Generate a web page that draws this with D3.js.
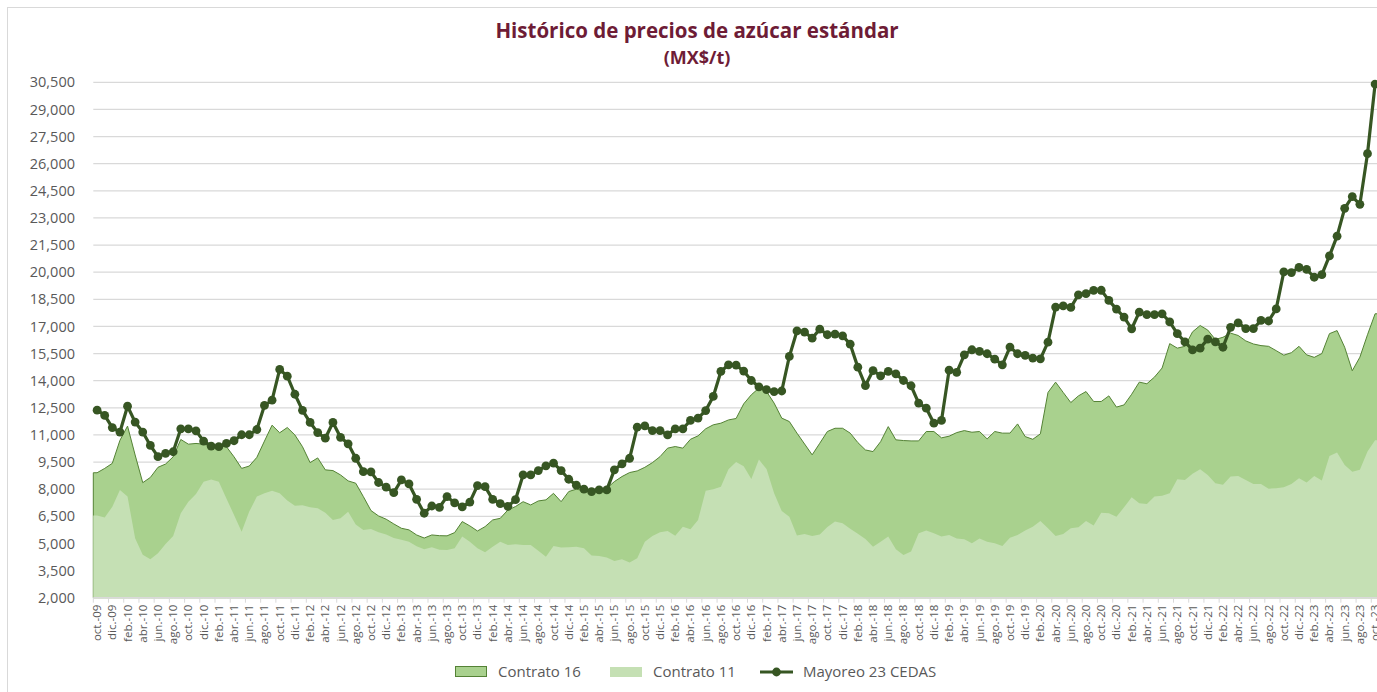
<!DOCTYPE html>
<html>
<head>
<meta charset="utf-8">
<script src="https://cdnjs.cloudflare.com/ajax/libs/d3/7.8.5/d3.min.js"></script>
<style>
  body { margin: 0; background: #fff; }
  svg { display: block; font-family: "Open Sans", "Noto Sans", sans-serif; }
</style>
</head>
<body>
<svg id="chart" width="1377" height="692"></svg>
<script>
"use strict";

// categories: oct-09 .. oct-23, monthly
var monthNames = ["ene", "feb", "mar", "abr", "may", "jun", "jul", "ago", "sep", "oct", "nov", "dic"];
var years = ["09", "10", "11", "12", "13", "14", "15", "16", "17", "18", "19", "20", "21", "22", "23"];

var mayoreo = [
  12370, 12080, 11410, 11160, 12590, 11710, 11160, 10420, 9800, 9980, 10070, 11340,
  11340, 11230, 10660, 10380, 10350, 10530, 10680, 11010, 11010, 11300, 12630, 12920,
  14620, 14250, 13250, 12360, 11690, 11130, 10820, 11690, 10870, 10510, 9710, 8970,
  8960, 8370, 8110, 7810, 8510, 8290, 7440, 6670, 7070, 7000, 7590, 7240,
  7020, 7290, 8200, 8140, 7440, 7200, 7050, 7420, 8790, 8790, 9030, 9290,
  9440, 9030, 8550, 8220, 8000, 7870, 7960, 7960, 9070, 9400, 9710, 11430,
  11500, 11240, 11240, 11000, 11340, 11340, 11800, 11930, 12350, 13130, 14510, 14880,
  14860, 14530, 14010, 13660, 13510, 13400, 13430, 15340, 16750, 16690, 16350, 16850,
  16540, 16580, 16480, 16020, 14750, 13730, 14560, 14270, 14510, 14380, 14010, 13720,
  12760, 12480, 11650, 11800, 14580, 14460, 15430, 15710, 15620, 15490, 15190, 14880,
  15860, 15490, 15400, 15250, 15210, 16130, 18070, 18140, 18050, 18750, 18810, 18990,
  19000, 18440, 17960, 17520, 16870, 17790, 17650, 17650, 17700, 17250, 16600, 16150,
  15700, 15800, 16300, 16150, 15850, 16950, 17200, 16880, 16880, 17330, 17300, 17970,
  20020, 19980, 20260, 20150, 19720, 19860, 20900, 21990, 23530, 24180, 23750, 26550,
  30400
];

var contrato16 = [
  8910, 9150, 9430, 10700, 11490, 9890, 8360, 8650, 9210, 9390, 9790, 10750,
  10490, 10530, 10490, 10380, 10380, 10350, 9790, 9150, 9280, 9760, 10660, 11540,
  11120, 11410, 11000, 10350, 9470, 9730, 9070, 9030, 8790, 8460, 8330, 7590,
  6820, 6520, 6340, 6080, 5840, 5750, 5470, 5300, 5470, 5430, 5420, 5600,
  6210, 5970, 5690, 5930, 6300, 6390, 6850, 7040, 7310, 7130, 7350, 7410,
  7770, 7310, 7870, 8000, 7920, 8000, 8000, 8050, 8420, 8700, 8920, 9010,
  9210, 9470, 9800, 10270, 10360, 10270, 10760, 10950, 11340, 11560, 11650, 11830,
  11910, 12720, 13220, 13590, 13400, 12760, 11930, 11740, 11100, 10500, 9900, 10540,
  11190, 11370, 11370, 11100, 10580, 10170, 10080, 10630, 11460, 10730, 10690, 10670,
  10670, 11190, 11190, 10840, 10930, 11130, 11240, 11150, 11190, 10780, 11190, 11100,
  11100, 11610, 10910, 10760, 11060, 13350, 13920, 13350, 12790, 13160, 13400, 12850,
  12850, 13160, 12540, 12660, 13250, 13920, 13830, 14200, 14700, 16050, 15800, 15900,
  16700, 17050, 16800, 16280, 16400, 16630, 16500, 16200, 16030, 15940, 15900, 15660,
  15410, 15550, 15900, 15430, 15290, 15500, 16600, 16770, 15850, 14550, 15300, 16540,
  17700
];

var contrato11 = [
  6540, 6430, 7030, 7950, 7590, 5290, 4370, 4130, 4460, 4970, 5410, 6670,
  7310, 7730, 8410, 8540, 8410, 7490, 6570, 5650, 6760, 7590, 7770, 7920,
  7770, 7370, 7090, 7110, 7000, 6950, 6700, 6300, 6400, 6750, 6050, 5750,
  5800, 5620, 5500, 5300, 5200, 5100, 4850, 4680, 4790, 4650, 4640, 4730,
  5380, 5100, 4730, 4510, 4820, 5100, 4920, 4950, 4920, 4920, 4600, 4270,
  4860, 4770, 4790, 4820, 4730, 4330, 4300, 4220, 4030, 4120, 3940, 4180,
  5100, 5410, 5620, 5690, 5430, 5930, 5780, 6300, 7920, 8000, 8140, 9100,
  9510, 9270, 8560, 9640, 9110, 7780, 6790, 6480, 5440, 5520, 5410, 5500,
  5910, 6220, 6110, 5810, 5530, 5250, 4820, 5100, 5380, 4680, 4360, 4550,
  5560, 5710, 5560, 5380, 5470, 5280, 5230, 5010, 5280, 5100, 5010, 4860,
  5320, 5470, 5710, 5930, 6240, 5840, 5410, 5520, 5840, 5890, 6240, 5990,
  6700, 6670, 6480, 7000, 7550, 7220, 7180, 7590, 7640, 7770, 8550, 8510,
  8850, 9100, 8790, 8330, 8240, 8700, 8730, 8510, 8290, 8290, 8030, 8050,
  8110, 8290, 8610, 8370, 8730, 8480, 9840, 10030, 9340, 8970, 9070, 10080,
  10700
];

var yTicks = [2000, 3500, 5000, 6500, 8000, 9500, 11000, 12500, 14000, 15500,
  17000, 18500, 20000, 21500, 23000, 24500, 26000, 27500, 29000, 30500];

var categories = mayoreo.map(function (d, i) {
  var m = (9 + i) % 12;
  var y = Math.floor((9 + i) / 12);
  return monthNames[m] + ".-" + years[y];
});

var plotLeft = 93.3, plotRight = 1378.9, plotTop = 82.3, plotBottom = 597.7;
var labelColor = "#595959";

var svg = d3.select("#chart");

var x = d3.scaleBand().domain(categories).range([plotLeft, plotRight]).padding(0);
var y = d3.scaleLinear().domain([2000, 30500]).range([plotBottom, plotTop]);

function cx(i) {
  return x(categories[i]) + x.bandwidth() / 2;
}

// chart frame
svg.append("rect")
  .attr("x", 7.5).attr("y", 7.5)
  .attr("width", 1400).attr("height", 700)
  .attr("fill", "none")
  .attr("stroke", "#d9d9d9");

// title
svg.append("text")
  .attr("x", 697).attr("y", 38)
  .attr("text-anchor", "middle")
  .attr("font-size", 20.5).attr("font-weight", "bold")
  .attr("fill", "#6e1c36")
  .text("Histórico de precios de azúcar estándar");
svg.append("text")
  .attr("x", 697).attr("y", 64)
  .attr("text-anchor", "middle")
  .attr("font-size", 18).attr("font-weight", "bold")
  .attr("fill", "#6e1c36")
  .text("(MX$/t)");

// gridlines + y labels
svg.append("g").selectAll("line")
  .data(yTicks)
  .enter().append("line")
  .attr("x1", plotLeft).attr("x2", plotRight)
  .attr("y1", function (d) { return y(d); })
  .attr("y2", function (d) { return y(d); })
  .attr("stroke", "#d9d9d9").attr("stroke-width", 1.3);

svg.append("g").selectAll("text")
  .data(yTicks)
  .enter().append("text")
  .attr("x", 75)
  .attr("y", function (d) { return y(d); })
  .attr("dy", "0.35em")
  .attr("text-anchor", "end")
  .attr("font-size", 14.5)
  .attr("fill", labelColor)
  .text(d3.format(","));

// areas, stretched to the plot edges
function areaPoints(values) {
  var pts = values.map(function (v, i) { return [cx(i), v]; });
  pts.unshift([plotLeft, values[0]]);
  pts.push([plotRight, values[values.length - 1]]);
  return pts;
}

var area = d3.area()
  .x(function (d) { return d[0]; })
  .y0(y(2000))
  .y1(function (d) { return y(d[1]); });

svg.append("path")
  .datum(areaPoints(contrato16))
  .attr("d", area)
  .attr("fill", "#a9d18e")
  .attr("stroke", "#548235")
  .attr("stroke-width", 1);

svg.append("path")
  .datum(areaPoints(contrato11))
  .attr("d", area)
  .attr("fill", "#c5e0b4");

// x axis
svg.append("line")
  .attr("x1", plotLeft).attr("x2", plotRight)
  .attr("y1", plotBottom).attr("y2", plotBottom)
  .attr("stroke", "#d9d9d9").attr("stroke-width", 1.3);

var evenCats = categories.filter(function (d, i) { return i % 2 == 0; });

svg.append("g").selectAll("line")
  .data(evenCats)
  .enter().append("line")
  .attr("x1", function (d) { return x(d); })
  .attr("x2", function (d) { return x(d); })
  .attr("y1", plotBottom).attr("y2", plotBottom + 5)
  .attr("stroke", "#d9d9d9");

var xAxis = svg.append("g")
  .attr("transform", "translate(0," + plotBottom + ")")
  .call(d3.axisBottom(x).tickValues(evenCats).tickSize(0).tickSizeOuter(0));
xAxis.select(".domain").remove();
xAxis.selectAll("text")
  .attr("transform", "rotate(-90)")
  .attr("x", -7)
  .attr("y", 0)
  .attr("dy", "0.35em")
  .attr("text-anchor", "end")
  .attr("font-size", 11.5)
  .attr("font-family", "\"Open Sans\", sans-serif")
  .attr("fill", labelColor);

// mayoreo line
var line = d3.line()
  .x(function (d, i) { return cx(i); })
  .y(function (d) { return y(d); });

svg.append("path")
  .datum(mayoreo)
  .attr("d", line)
  .attr("fill", "none")
  .attr("stroke", "#375623")
  .attr("stroke-width", 3.2)
  .attr("stroke-linejoin", "round");

svg.append("g").selectAll("circle")
  .data(mayoreo)
  .enter().append("circle")
  .attr("cx", function (d, i) { return cx(i); })
  .attr("cy", function (d) { return y(d); })
  .attr("r", 4.4)
  .attr("fill", "#375623");

// legend
var legendY = 672;
var legend = svg.append("g").attr("font-size", 15).attr("fill", labelColor);

legend.append("rect")
  .attr("x", 455.5).attr("y", legendY - 5.5)
  .attr("width", 31).attr("height", 10)
  .attr("fill", "#a9d18e").attr("stroke", "#548235");
legend.append("text").attr("x", 498).attr("y", legendY).attr("dy", "0.35em").text("Contrato 16");

legend.append("rect")
  .attr("x", 610).attr("y", legendY - 5)
  .attr("width", 32).attr("height", 10)
  .attr("fill", "#c5e0b4");
legend.append("text").attr("x", 653).attr("y", legendY).attr("dy", "0.35em").text("Contrato 11");

legend.append("line")
  .attr("x1", 760).attr("x2", 793)
  .attr("y1", legendY).attr("y2", legendY)
  .attr("stroke", "#375623").attr("stroke-width", 3);
legend.append("circle")
  .attr("cx", 776.5).attr("cy", legendY).attr("r", 4.4)
  .attr("fill", "#375623");
legend.append("text").attr("x", 803).attr("y", legendY).attr("dy", "0.35em").text("Mayoreo 23 CEDAS");
</script>
</body>
</html>
